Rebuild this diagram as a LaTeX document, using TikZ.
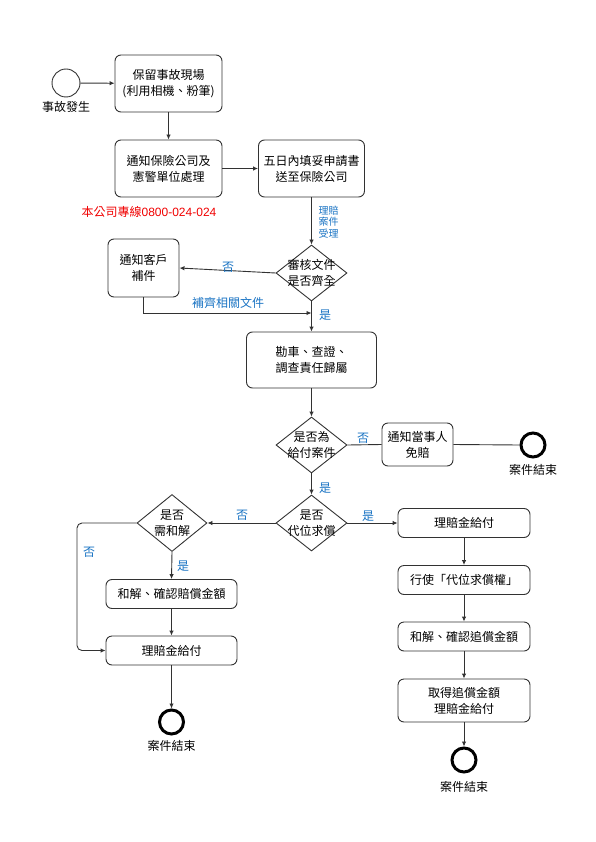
\documentclass[tikz,border=0pt]{standalone}
\usepackage{fontspec}
\setmainfont{Noto Sans CJK TC}
\newfontfamily\latinf{Liberation Sans}
\usetikzlibrary{shapes.geometric,arrows.meta}
\definecolor{lblue}{RGB}{25,115,195}
\definecolor{lred}{RGB}{240,0,0}
\definecolor{lgray}{RGB}{50,50,50}
\tikzset{
  txt/.style={font=\fontsize{12}{16}\selectfont},
  box/.style={draw=lgray,line width=0.9pt,rounded corners=6pt,align=center,inner sep=1pt,txt},
  dia/.style={draw=lgray,line width=0.9pt,diamond,inner sep=0pt,minimum width=71pt,minimum height=56pt},
  dlab/.style={align=center,txt,inner sep=0pt},
  endc/.style={circle,draw=black,line width=3pt,minimum size=24pt,inner sep=0pt},
  startc/.style={circle,draw=lgray,line width=0.9pt,minimum size=28pt,inner sep=0pt},
  lab/.style={txt,inner sep=0pt},
  blab/.style={txt,text=lblue,inner sep=0pt},
  conn/.style={draw=lgray,line width=0.9pt},
  arr/.style={conn,-{Latex[length=5pt,width=4.5pt]}},
}
\begin{document}
\begin{tikzpicture}[x=1pt,y=-1pt]
\useasboundingbox (0,0) rectangle (595,842);
% start
\node[startc] (start) at (66,83) {};
\node[lab] (startl) at (66,107) {事故發生};
% top boxes
\node[box,minimum width=107pt,minimum height=57pt] (b1) at (168.5,83.5) {保留事故現場\\(利用相機、粉筆)};
\node[box,minimum width=107pt,minimum height=57pt] (b2) at (168.5,168.5) {通知保險公司及\\憲警單位處理};
\node[box,minimum width=106pt,minimum height=57pt] (b3) at (311.5,168.5) {五日內填妥申請書\\送至保險公司};
\node[lab,text=lred] (tel) at (149,212) {本公司專線{\latinf 0800-024-024}};
\node[align=center,text=lblue,font=\fontsize{10}{11.5}\selectfont,inner sep=0pt] (acc) at (328.5,222) {理賠\\案件\\受理};
% diamond 1
\node[dia] (d1) at (311.5,273) {};
\node[dlab] (d1t) at (d1.center) {審核文件\\是否齊全};
\node[box,minimum width=71pt,minimum height=58pt] (kh) at (143.5,268) {通知客戶\\補件};
\coordinate (j1) at (311.5,313);
\node[box,minimum width=130pt,minimum height=56pt] (kc) at (311.5,360) {勘車、查證、\\調查責任歸屬};
% diamond 2
\node[dia] (d2) at (311.5,445) {};
\node[dlab] (d2t) at (d2.center) {是否為\\給付案件};
\node[box,minimum width=71pt,minimum height=43pt] (mp) at (417.5,444.5) {通知當事人\\免賠};
\node[endc] (e1) at (533,445) {};
\node[lab] (e1l) at (533,470) {案件結束};
% diamond 3
\node[dia] (d3) at (311.5,523) {};
\node[dlab] (d3t) at (d3.center) {是否\\代位求償};
% right column
\node[box,minimum width=132pt,minimum height=29pt] (r1) at (464,523) {理賠金給付};
\node[box,minimum width=132pt,minimum height=29pt] (r2) at (464,580) {行使「代位求償權」};
\node[box,minimum width=132pt,minimum height=29pt] (r3) at (464,636.5) {和解、確認追償金額};
\node[box,minimum width=132pt,minimum height=43pt] (r4) at (464,700.5) {取得追償金額\\理賠金給付};
\node[endc] (e3) at (464,760) {};
\node[lab] (e3l) at (464,787) {案件結束};
% left column
\node[dia,minimum width=70pt,minimum height=57pt] (d4) at (172,523) {};
\node[dlab] (d4t) at (d4.center) {是否\\需和解};
\node[box,minimum width=131pt,minimum height=29pt] (hj) at (171.5,594) {和解、確認賠償金額};
\node[box,minimum width=131pt,minimum height=29pt] (lp) at (171.5,650.5) {理賠金給付};
\node[endc] (e2) at (171.5,722) {};
\node[lab] (e2l) at (171.5,746) {案件結束};
\coordinate (c1) at (77,523);
% connectors
\draw[arr] (start) -- (b1);
\draw[arr] (b1) -- (b2);
\draw[arr] (b2) -- (b3);
\draw[arr] (b3) -- (d1);
\draw[arr] (d1.west) -- (kh.east);
\node[blab] (n1) at (228,267) {否};
\draw[arr] (kh.south) |- (j1);
\node[blab] (n2) at (228,303) {補齊相關文件};
\draw[arr] (d1.south) -- (kc.north);
\node[blab] (y1) at (325,315) {是};
\draw[arr] (kc.south) -- (d2.north);
\draw[conn] (d2.east) -- (mp.west);
\node[blab] (n3) at (363,438) {否};
\draw[conn] (mp.east) -- (e1.west);
\draw[arr] (d2.south) -- (d3.north);
\node[blab] (y2) at (325,488) {是};
\draw[arr] (d3.east) -- (r1.west);
\node[blab] (y3) at (368,516) {是};
\draw[arr] (r1) -- (r2);
\draw[arr] (r2) -- (r3);
\draw[arr] (r3) -- (r4);
\draw[arr] (r4) -- (e3);
\draw[arr] (d3.west) -- (d4.east);
\node[blab] (n4) at (242,515) {否};
\draw[arr] (d4.south) -- (hj.north);
\node[blab] (y4) at (183,566) {是};
\draw[arr,rounded corners=5pt] (d4.west) -- (c1) |- (lp.west);
\node[blab] (n5) at (89,552) {否};
\draw[arr] (hj) -- (lp);
\draw[arr] (lp) -- (e2);
\end{tikzpicture}
\end{document}
